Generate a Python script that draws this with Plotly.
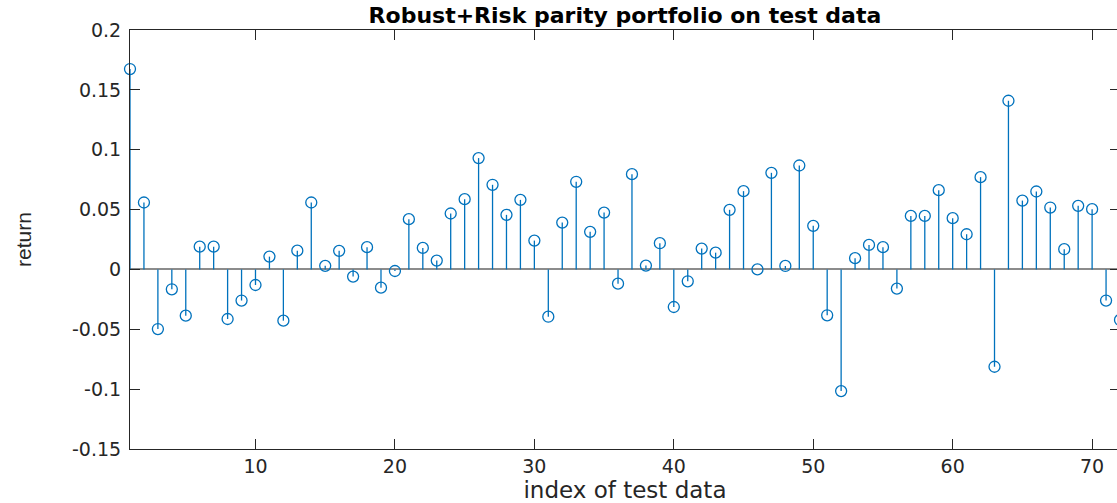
import plotly.graph_objects as go

# Data
index = list(range(1, 73))
returns = [
    0.1674, 0.0559, -0.0498, -0.0166, -0.0386, 0.0190, 0.0190, -0.0414, -0.0260, -0.0130,
    0.0107, -0.0428, 0.0157, 0.0559, 0.0030, 0.0155, -0.0060, 0.0186, -0.0152, -0.0013,
    0.0420, 0.0180, 0.0074, 0.0467, 0.0587, 0.0930, 0.0707, 0.0456, 0.0581, 0.0241,
    -0.0395, 0.0391, 0.0732, 0.0314, 0.0475, -0.0119, 0.0796, 0.0032, 0.0219, -0.0314,
    -0.0099, 0.0174, 0.0140, 0.0498, 0.0654, 0.0000, 0.0807, 0.0029, 0.0868, 0.0364,
    -0.0383, -0.1016, 0.0094, 0.0205, 0.0186, -0.0160, 0.0447, 0.0447, 0.0662, 0.0428,
    0.0294, 0.0771, -0.0813, 0.1409, 0.0575, 0.0651, 0.0517, 0.0169, 0.0531, 0.0503,
    -0.0260, -0.0422,
]
ytick_vals = [-0.15, -0.1, -0.05, 0, 0.05, 0.1, 0.15, 0.2]
ytick_text = ["-0.15", "-0.1", "-0.05", "0", "0.05", "0.1", "0.15", "0.2"]
xtick_vals = [10, 20, 30, 40, 50, 60, 70]

BLUE = "#0072BD"
AX = "#262626"

# stems built from the data
sx, sy = [], []
for xi, yi in zip(index, returns):
    sx += [xi, xi, None]
    sy += [0, yi, None]

fig = go.Figure()
fig.add_trace(go.Scatter(x=sx, y=sy, mode="lines",
                         line=dict(color=BLUE, width=1.3),
                         hoverinfo="skip", showlegend=False))
fig.add_trace(go.Scatter(x=index, y=returns, mode="markers",
                         marker=dict(symbol="circle-open", size=11,
                                     color=BLUE, line=dict(color=BLUE, width=1.3)),
                         cliponaxis=False, showlegend=False))

fig.update_layout(
    width=1120, height=503,
    margin=dict(l=130, r=0, t=30, b=54),
    paper_bgcolor="white", plot_bgcolor="white",
    font=dict(family="DejaVu Sans", color=AX),
    title=dict(text="Robust+Risk parity portfolio on test data",
               font=dict(family="DejaVu Sans", size=22, color="black", weight=700),
               x=0.558, xanchor="center", yref="container", y=1 - 15 / 503,
               yanchor="middle"),
)
fig.update_xaxes(
    range=[1, 72], tickvals=xtick_vals, ticktext=[str(v) for v in xtick_vals],
    ticks="inside", ticklen=10, tickcolor=AX, tickwidth=1,
    showline=True, linecolor=AX, linewidth=1, mirror="ticks",
    showgrid=False, zeroline=False,
    tickfont=dict(size=19, color=AX, family="DejaVu Sans"),
    title=dict(text="index of test data", standoff=1,
               font=dict(size=23, color=AX, family="DejaVu Sans")),
)
fig.update_yaxes(
    range=[-0.15, 0.2], tickvals=ytick_vals, ticktext=ytick_text,
    ticks="inside", ticklen=10, tickcolor=AX, tickwidth=1,
    showline=True, linecolor=AX, linewidth=1, mirror="ticks",
    showgrid=False, zeroline=True, zerolinecolor="#8c8c8c", zerolinewidth=1.5,
    tickfont=dict(size=19, color=AX, family="DejaVu Sans"),
    ticklabelstandoff=4,
    title=dict(text="return", standoff=34,
               font=dict(size=21, color=AX, family="Liberation Sans Narrow, Liberation Sans")),
)

fig.write_html(
    "out.html",
    config={"displayModeBar": False},
    post_script="document.body.style.margin='0';document.body.style.overflow='hidden';",
)
